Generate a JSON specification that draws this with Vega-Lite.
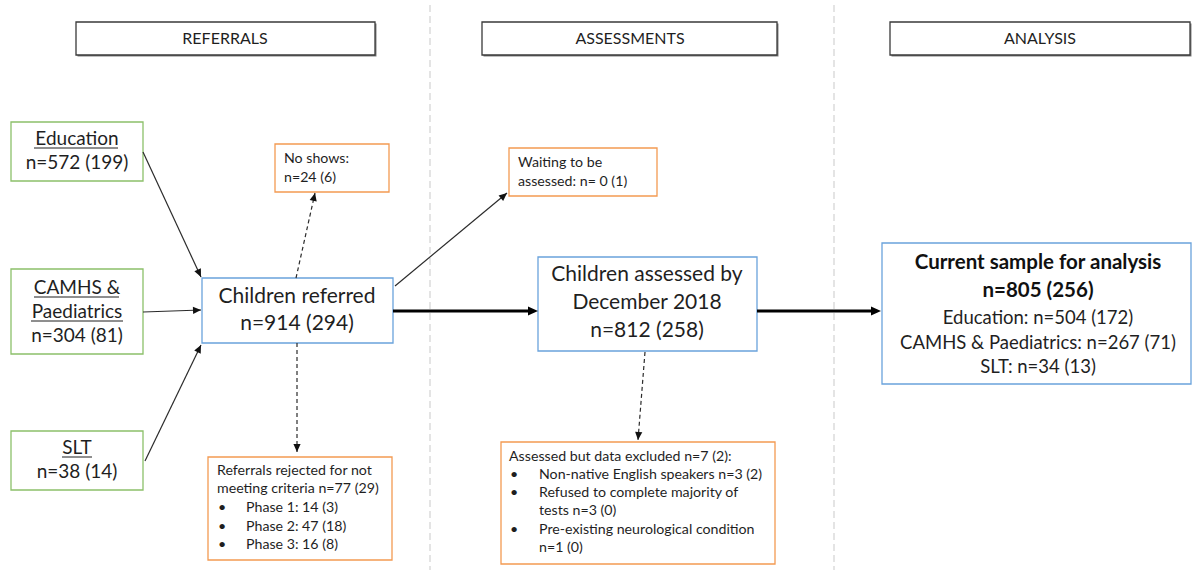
{
  "$schema": "https://vega.github.io/schema/vega-lite/v6.json",
  "width": 1192,
  "height": 572,
  "padding": 0,
  "autosize": {"type": "fit", "contains": "padding"},
  "background": "white",
  "config": {"view": {"stroke": null}},
  "datasets": {
    "dividers": [
      {"x": 430, "y1": 5, "y2": 570},
      {"x": 834, "y1": 5, "y2": 570}
    ],
    "boxes": [
      {"id": "REFERRALS", "kind": "header", "x1": 76, "y1": 22, "x2": 375, "y2": 55},
      {"id": "ASSESSMENTS", "kind": "header", "x1": 482, "y1": 22, "x2": 777, "y2": 55},
      {"id": "ANALYSIS", "kind": "header", "x1": 890, "y1": 22, "x2": 1190, "y2": 55},
      {"id": "Education", "kind": "source", "x1": 11, "y1": 122, "x2": 143, "y2": 181},
      {"id": "CAMHS", "kind": "source", "x1": 11, "y1": 269, "x2": 143, "y2": 354},
      {"id": "SLT", "kind": "source", "x1": 11, "y1": 431, "x2": 143, "y2": 490},
      {"id": "Referred", "kind": "main", "x1": 202, "y1": 278, "x2": 393, "y2": 343},
      {"id": "Assessed", "kind": "main", "x1": 538, "y1": 257, "x2": 757, "y2": 351},
      {"id": "Sample", "kind": "main", "x1": 882, "y1": 243, "x2": 1191, "y2": 384},
      {"id": "NoShows", "kind": "note", "x1": 275, "y1": 144, "x2": 389, "y2": 192},
      {"id": "Rejected", "kind": "note", "x1": 208, "y1": 457, "x2": 392, "y2": 560},
      {"id": "Waiting", "kind": "note", "x1": 509, "y1": 148, "x2": 657, "y2": 196},
      {"id": "Excluded", "kind": "note", "x1": 501, "y1": 442, "x2": 775, "y2": 564}
    ],
    "lines": [
      {"id": "edu", "style": "solid", "x1": 143, "y1": 152, "x2": 201, "y2": 277},
      {"id": "camhs", "style": "solid", "x1": 143, "y1": 312, "x2": 201, "y2": 310},
      {"id": "slt", "style": "solid", "x1": 145, "y1": 461, "x2": 201, "y2": 345},
      {"id": "waiting", "style": "solid", "x1": 395, "y1": 286, "x2": 507, "y2": 193},
      {"id": "noshow", "style": "dashed", "x1": 296, "y1": 278, "x2": 315, "y2": 193},
      {"id": "rejected", "style": "dashed", "x1": 297, "y1": 343, "x2": 297, "y2": 452},
      {"id": "excluded", "style": "dashed", "x1": 645, "y1": 352, "x2": 638, "y2": 440},
      {"id": "toAssessed", "style": "thick", "x1": 393, "y1": 311, "x2": 530, "y2": 311},
      {"id": "toSample", "style": "thick", "x1": 757, "y1": 311, "x2": 873, "y2": 311}
    ],
    "heads": [
      {"id": "edu", "kind": "thin", "x": 201, "y": 277, "angle": 155},
      {"id": "camhs", "kind": "thin", "x": 201, "y": 310, "angle": 88},
      {"id": "slt", "kind": "thin", "x": 201, "y": 345, "angle": 26},
      {"id": "waiting", "kind": "thin", "x": 507, "y": 193, "angle": 50},
      {"id": "noshow", "kind": "thin", "x": 315, "y": 193, "angle": 13},
      {"id": "rejected", "kind": "thin", "x": 297, "y": 452, "angle": 180},
      {"id": "excluded", "kind": "thin", "x": 638, "y": 440, "angle": 185},
      {"id": "toAssessed", "kind": "thick", "x": 538, "y": 311, "angle": 90},
      {"id": "toSample", "kind": "thick", "x": 881, "y": 311, "angle": 90}
    ],
    "underlines": [
      {"x1": 34, "x2": 118, "y": 148},
      {"x1": 34, "x2": 119, "y": 297},
      {"x1": 31, "x2": 123, "y": 321},
      {"x1": 62, "x2": 92, "y": 457}
    ],
    "texts": [
      {"role": "header", "x": 225, "y": 39, "text": "REFERRALS"},
      {"role": "header", "x": 630, "y": 39, "text": "ASSESSMENTS"},
      {"role": "header", "x": 1040, "y": 39, "text": "ANALYSIS"},
      {"role": "source", "x": 77, "y": 139, "text": "Education"},
      {"role": "source", "x": 77, "y": 163, "text": "n=572 (199)"},
      {"role": "source", "x": 77, "y": 288, "text": "CAMHS &"},
      {"role": "source", "x": 77, "y": 312, "text": "Paediatrics"},
      {"role": "source", "x": 77, "y": 336, "text": "n=304 (81)"},
      {"role": "source", "x": 77, "y": 448, "text": "SLT"},
      {"role": "source", "x": 77, "y": 472, "text": "n=38 (14)"},
      {"role": "main", "x": 297, "y": 297, "text": "Children referred"},
      {"role": "main", "x": 297, "y": 324, "text": "n=914 (294)"},
      {"role": "main", "x": 647, "y": 275, "text": "Children assessed by"},
      {"role": "main", "x": 647, "y": 303, "text": "December 2018"},
      {"role": "main", "x": 647, "y": 331, "text": "n=812 (258)"},
      {"role": "sampleBold", "x": 1038, "y": 263, "text": "Current sample for analysis"},
      {"role": "sampleBold", "x": 1038, "y": 291, "text": "n=805 (256)"},
      {"role": "sample", "x": 1038, "y": 318, "text": "Education: n=504 (172)"},
      {"role": "sample", "x": 1038, "y": 343, "text": "CAMHS & Paediatrics: n=267 (71)"},
      {"role": "sample", "x": 1038, "y": 367, "text": "SLT: n=34 (13)"},
      {"role": "note", "x": 284, "y": 159, "text": "No shows:"},
      {"role": "note", "x": 284, "y": 178, "text": "n=24 (6)"},
      {"role": "note", "x": 518, "y": 163, "text": "Waiting to be"},
      {"role": "note", "x": 518, "y": 182, "text": "assessed: n= 0 (1)"},
      {"role": "note", "x": 217, "y": 471, "text": "Referrals rejected for not"},
      {"role": "note", "x": 217, "y": 489, "text": "meeting criteria n=77 (29)"},
      {"role": "note", "x": 218, "y": 508, "text": "•"},
      {"role": "note", "x": 246, "y": 508, "text": "Phase 1: 14 (3)"},
      {"role": "note", "x": 218, "y": 527, "text": "•"},
      {"role": "note", "x": 246, "y": 527, "text": "Phase 2: 47 (18)"},
      {"role": "note", "x": 218, "y": 545, "text": "•"},
      {"role": "note", "x": 246, "y": 545, "text": "Phase 3: 16 (8)"},
      {"role": "note", "x": 509, "y": 457, "text": "Assessed but data excluded n=7 (2):"},
      {"role": "note", "x": 510, "y": 475, "text": "•"},
      {"role": "note", "x": 539, "y": 475, "text": "Non-native English speakers n=3 (2)"},
      {"role": "note", "x": 510, "y": 493, "text": "•"},
      {"role": "note", "x": 539, "y": 493, "text": "Refused to complete majority of"},
      {"role": "note", "x": 539, "y": 511, "text": "tests n=3 (0)"},
      {"role": "note", "x": 510, "y": 530, "text": "•"},
      {"role": "note", "x": 539, "y": 530, "text": "Pre-existing neurological condition"},
      {"role": "note", "x": 539, "y": 548, "text": "n=1 (0)"}
    ]
  },
  "layer": [
    {
      "data": {"name": "dividers"},
      "mark": {"type": "rule", "color": "#c9c9c9", "strokeWidth": 1, "strokeDash": [7, 4]},
      "encoding": {
        "x": {"field": "x", "type": "quantitative", "scale": {"domain": [0, 1192], "nice": false, "zero": false}, "axis": null},
        "y": {"field": "y1", "type": "quantitative", "scale": {"domain": [0, 572], "nice": false, "zero": false, "reverse": true}, "axis": null},
        "y2": {"field": "y2"}
      }
    },
    {
      "data": {"name": "boxes"},
      "transform": [{"filter": "datum.kind === 'header'"}],
      "mark": {"type": "rect", "fill": "#808080", "xOffset": 1.5, "x2Offset": 1.5, "yOffset": 1.5, "y2Offset": 1.5},
      "encoding": {
        "x": {"field": "x1", "type": "quantitative", "scale": {"domain": [0, 1192], "nice": false, "zero": false}, "axis": null},
        "x2": {"field": "x2"},
        "y": {"field": "y1", "type": "quantitative", "scale": {"domain": [0, 572], "nice": false, "zero": false, "reverse": true}, "axis": null},
        "y2": {"field": "y2"}
      }
    },
    {
      "data": {"name": "boxes"},
      "mark": {"type": "rect", "fill": "white", "strokeWidth": 1.3},
      "encoding": {
        "x": {"field": "x1", "type": "quantitative", "scale": {"domain": [0, 1192], "nice": false, "zero": false}, "axis": null},
        "x2": {"field": "x2"},
        "y": {"field": "y1", "type": "quantitative", "scale": {"domain": [0, 572], "nice": false, "zero": false, "reverse": true}, "axis": null},
        "y2": {"field": "y2"},
        "stroke": {"field": "kind", "type": "nominal", "legend": null,
          "scale": {"domain": ["header", "source", "main", "note"], "range": ["#3a3a3a", "#8cc06a", "#6aa3dc", "#f39a52"]}}
      }
    },
    {
      "data": {"name": "lines"},
      "transform": [{"filter": "datum.style === 'solid'"}],
      "mark": {"type": "rule", "color": "#2b2b2b", "strokeWidth": 1.2},
      "encoding": {
        "x": {"field": "x1", "type": "quantitative", "scale": {"domain": [0, 1192], "nice": false, "zero": false}, "axis": null},
        "x2": {"field": "x2"},
        "y": {"field": "y1", "type": "quantitative", "scale": {"domain": [0, 572], "nice": false, "zero": false, "reverse": true}, "axis": null},
        "y2": {"field": "y2"}
      }
    },
    {
      "data": {"name": "lines"},
      "transform": [{"filter": "datum.style === 'dashed'"}],
      "mark": {"type": "rule", "color": "#2b2b2b", "strokeWidth": 1.2, "strokeDash": [4, 3]},
      "encoding": {
        "x": {"field": "x1", "type": "quantitative", "scale": {"domain": [0, 1192], "nice": false, "zero": false}, "axis": null},
        "x2": {"field": "x2"},
        "y": {"field": "y1", "type": "quantitative", "scale": {"domain": [0, 572], "nice": false, "zero": false, "reverse": true}, "axis": null},
        "y2": {"field": "y2"}
      }
    },
    {
      "data": {"name": "lines"},
      "transform": [{"filter": "datum.style === 'thick'"}],
      "mark": {"type": "rule", "color": "#000000", "strokeWidth": 3},
      "encoding": {
        "x": {"field": "x1", "type": "quantitative", "scale": {"domain": [0, 1192], "nice": false, "zero": false}, "axis": null},
        "x2": {"field": "x2"},
        "y": {"field": "y1", "type": "quantitative", "scale": {"domain": [0, 572], "nice": false, "zero": false, "reverse": true}, "axis": null},
        "y2": {"field": "y2"}
      }
    },
    {
      "data": {"name": "heads"},
      "transform": [{"filter": "datum.kind === 'thin'"}],
      "mark": {"type": "point", "shape": "M0,0L0.45,1L-0.45,1Z", "filled": true, "color": "#111111", "opacity": 1, "size": 256},
      "encoding": {
        "x": {"field": "x", "type": "quantitative", "scale": {"domain": [0, 1192], "nice": false, "zero": false}, "axis": null},
        "y": {"field": "y", "type": "quantitative", "scale": {"domain": [0, 572], "nice": false, "zero": false, "reverse": true}, "axis": null},
        "angle": {"field": "angle", "type": "quantitative", "scale": null}
      }
    },
    {
      "data": {"name": "heads"},
      "transform": [{"filter": "datum.kind === 'thick'"}],
      "mark": {"type": "point", "shape": "M0,0L0.45,1L-0.45,1Z", "filled": true, "color": "#000000", "opacity": 1, "size": 400},
      "encoding": {
        "x": {"field": "x", "type": "quantitative", "scale": {"domain": [0, 1192], "nice": false, "zero": false}, "axis": null},
        "y": {"field": "y", "type": "quantitative", "scale": {"domain": [0, 572], "nice": false, "zero": false, "reverse": true}, "axis": null},
        "angle": {"field": "angle", "type": "quantitative", "scale": null}
      }
    },
    {
      "data": {"name": "underlines"},
      "mark": {"type": "rule", "color": "#1f1f1f", "strokeWidth": 1},
      "encoding": {
        "x": {"field": "x1", "type": "quantitative", "scale": {"domain": [0, 1192], "nice": false, "zero": false}, "axis": null},
        "x2": {"field": "x2"},
        "y": {"field": "y", "type": "quantitative", "scale": {"domain": [0, 572], "nice": false, "zero": false, "reverse": true}, "axis": null}
      }
    },
    {
      "data": {"name": "texts"},
      "transform": [{"filter": "datum.role === 'header'"}],
      "mark": {"type": "text", "font": "Lato", "fontSize": 16, "align": "center", "baseline": "middle", "color": "#1f1f1f"},
      "encoding": {
        "x": {"field": "x", "type": "quantitative", "scale": {"domain": [0, 1192], "nice": false, "zero": false}, "axis": null},
        "y": {"field": "y", "type": "quantitative", "scale": {"domain": [0, 572], "nice": false, "zero": false, "reverse": true}, "axis": null},
        "text": {"field": "text"}
      }
    },
    {
      "data": {"name": "texts"},
      "transform": [{"filter": "datum.role === 'source'"}],
      "mark": {"type": "text", "font": "Lato", "fontSize": 19, "align": "center", "baseline": "middle", "color": "#1f1f1f"},
      "encoding": {
        "x": {"field": "x", "type": "quantitative", "scale": {"domain": [0, 1192], "nice": false, "zero": false}, "axis": null},
        "y": {"field": "y", "type": "quantitative", "scale": {"domain": [0, 572], "nice": false, "zero": false, "reverse": true}, "axis": null},
        "text": {"field": "text"}
      }
    },
    {
      "data": {"name": "texts"},
      "transform": [{"filter": "datum.role === 'main'"}],
      "mark": {"type": "text", "font": "Lato", "fontSize": 21, "align": "center", "baseline": "middle", "color": "#1f1f1f"},
      "encoding": {
        "x": {"field": "x", "type": "quantitative", "scale": {"domain": [0, 1192], "nice": false, "zero": false}, "axis": null},
        "y": {"field": "y", "type": "quantitative", "scale": {"domain": [0, 572], "nice": false, "zero": false, "reverse": true}, "axis": null},
        "text": {"field": "text"}
      }
    },
    {
      "data": {"name": "texts"},
      "transform": [{"filter": "datum.role === 'sampleBold'"}],
      "mark": {"type": "text", "font": "Lato", "fontSize": 20.5, "fontWeight": "bold", "align": "center", "baseline": "middle", "color": "#111111"},
      "encoding": {
        "x": {"field": "x", "type": "quantitative", "scale": {"domain": [0, 1192], "nice": false, "zero": false}, "axis": null},
        "y": {"field": "y", "type": "quantitative", "scale": {"domain": [0, 572], "nice": false, "zero": false, "reverse": true}, "axis": null},
        "text": {"field": "text"}
      }
    },
    {
      "data": {"name": "texts"},
      "transform": [{"filter": "datum.role === 'sample'"}],
      "mark": {"type": "text", "font": "Lato", "fontSize": 18.5, "align": "center", "baseline": "middle", "color": "#1f1f1f"},
      "encoding": {
        "x": {"field": "x", "type": "quantitative", "scale": {"domain": [0, 1192], "nice": false, "zero": false}, "axis": null},
        "y": {"field": "y", "type": "quantitative", "scale": {"domain": [0, 572], "nice": false, "zero": false, "reverse": true}, "axis": null},
        "text": {"field": "text"}
      }
    },
    {
      "data": {"name": "texts"},
      "transform": [{"filter": "datum.role === 'note'"}],
      "mark": {"type": "text", "font": "Lato", "fontSize": 14.2, "align": "left", "baseline": "middle", "color": "#1f1f1f"},
      "encoding": {
        "x": {"field": "x", "type": "quantitative", "scale": {"domain": [0, 1192], "nice": false, "zero": false}, "axis": null},
        "y": {"field": "y", "type": "quantitative", "scale": {"domain": [0, 572], "nice": false, "zero": false, "reverse": true}, "axis": null},
        "text": {"field": "text"}
      }
    }
  ]
}
